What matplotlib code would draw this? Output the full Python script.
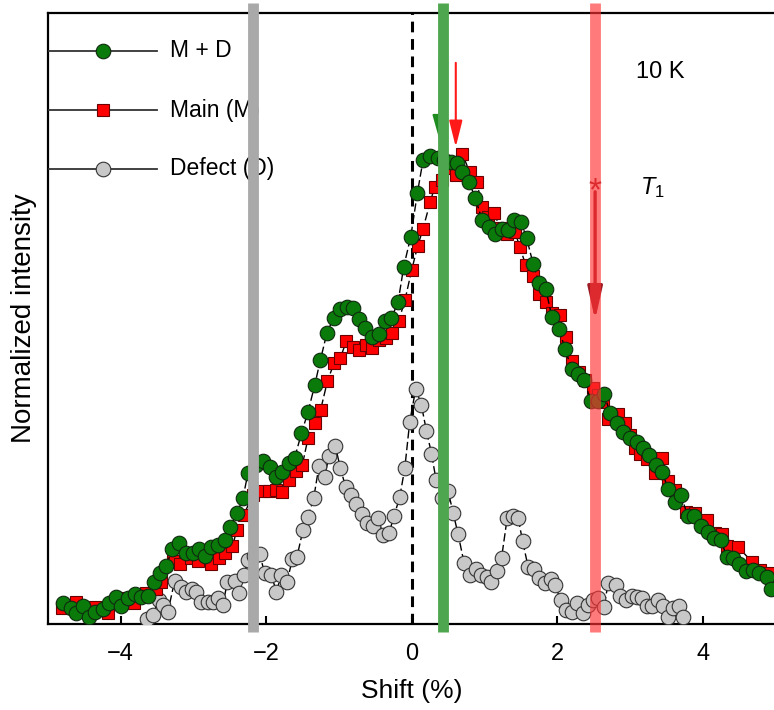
import numpy as np
import matplotlib.pyplot as plt

plt.rcParams['font.family'] = ['Liberation Sans', 'DejaVu Sans']
plt.rcParams['mathtext.fontset'] = 'custom'
plt.rcParams['mathtext.rm'] = 'Liberation Sans'
plt.rcParams['mathtext.it'] = 'Liberation Sans:italic'

# M + D spectrum
shift_md = [-4.796, -4.681, -4.612, -4.521, -4.439, -4.347, -4.246, -4.164, -4.072, -3.993,
            -3.902, -3.810, -3.718, -3.627, -3.549, -3.466, -3.374, -3.292, -3.201, -3.109,
            -3.008, -2.926, -2.838, -2.755, -2.664, -2.572, -2.494, -2.403, -2.320, -2.252,
            -2.146, -2.045, -1.953, -1.871, -1.779, -1.688, -1.609, -1.517, -1.426, -1.334,
            -1.256, -1.165, -1.073, -0.981, -0.890, -0.807, -0.729, -0.637, -0.546, -0.450,
            -0.371, -0.279, -0.188, -0.110, -0.014, 0.078, 0.155, 0.257, 0.362, 0.444,
            0.536, 0.615, 0.692, 0.784, 0.871, 0.967, 1.059, 1.142, 1.234, 1.325,
            1.403, 1.499, 1.578, 1.669, 1.751, 1.843, 1.926, 2.022, 2.109, 2.197,
            2.287, 2.370, 2.458, 2.554, 2.645, 2.724, 2.816, 2.906, 2.999, 3.091,
            3.182, 3.264, 3.356, 3.443, 3.525, 3.618, 3.700, 3.792, 3.883, 3.975,
            4.067, 4.158, 4.250, 4.329, 4.420, 4.502, 4.594, 4.686, 4.777, 4.879, 4.934]
int_md = [0.035, 0.026, 0.018, 0.029, 0.011, 0.020, 0.024, 0.034, 0.045, 0.029,
          0.042, 0.049, 0.045, 0.046, 0.069, 0.084, 0.095, 0.123, 0.132, 0.117,
          0.116, 0.122, 0.112, 0.126, 0.129, 0.137, 0.159, 0.181, 0.206, 0.247,
          0.260, 0.266, 0.257, 0.241, 0.248, 0.263, 0.272, 0.312, 0.347, 0.391,
          0.432, 0.477, 0.501, 0.515, 0.519, 0.517, 0.499, 0.485, 0.470, 0.474,
          0.496, 0.501, 0.527, 0.585, 0.634, 0.706, 0.759, 0.766, 0.762, 0.759,
          0.756, 0.754, 0.739, 0.724, 0.698, 0.661, 0.650, 0.638, 0.646, 0.645,
          0.662, 0.658, 0.632, 0.589, 0.558, 0.548, 0.502, 0.483, 0.450, 0.417,
          0.409, 0.400, 0.365, 0.365, 0.376, 0.346, 0.329, 0.315, 0.305, 0.298,
          0.288, 0.277, 0.260, 0.248, 0.221, 0.200, 0.211, 0.177, 0.177, 0.161,
          0.151, 0.141, 0.137, 0.110, 0.108, 0.098, 0.086, 0.088, 0.083, 0.077, 0.058]

# Main (M) component
shift_main = [-4.805, -4.612, -4.360, -4.177, -3.971, -3.824, -3.649, -3.512, -3.453, -3.283,
              -3.191, -3.030, -2.939, -2.765, -2.655, -2.572, -2.466, -2.403, -2.311, -2.187,
              -2.045, -1.963, -1.871, -1.784, -1.692, -1.596, -1.503, -1.426, -1.334, -1.252,
              -1.160, -1.069, -0.981, -0.898, -0.807, -0.725, -0.633, -0.541, -0.450, -0.358,
              -0.271, -0.179, -0.092, 0.000, 0.080, 0.155, 0.252, 0.316, 0.413, 0.509,
              0.605, 0.697, 0.798, 0.890, 0.972, 1.050, 1.132, 1.217, 1.303, 1.417,
              1.486, 1.564, 1.660, 1.751, 1.839, 1.930, 2.036, 2.114, 2.197, 2.297,
              2.380, 2.486, 2.558, 2.631, 2.700, 2.838, 2.930, 2.999, 3.067, 3.136,
              3.228, 3.343, 3.435, 3.525, 3.618, 3.769, 3.893, 4.054, 4.168, 4.260,
              4.329, 4.488, 4.673, 4.787, 4.924]
int_main = [0.026, 0.036, 0.028, 0.018, 0.042, 0.034, 0.051, 0.058, 0.069, 0.103,
            0.099, 0.108, 0.103, 0.099, 0.108, 0.116, 0.127, 0.154, 0.178, 0.211,
            0.218, 0.218, 0.219, 0.216, 0.235, 0.251, 0.261, 0.304, 0.329, 0.351,
            0.397, 0.427, 0.436, 0.463, 0.454, 0.448, 0.457, 0.451, 0.465, 0.468,
            0.477, 0.496, 0.531, 0.580, 0.618, 0.647, 0.690, 0.716, 0.727, 0.746,
            0.735, 0.769, 0.739, 0.724, 0.683, 0.666, 0.672, 0.648, 0.638, 0.642,
            0.617, 0.588, 0.570, 0.540, 0.527, 0.509, 0.505, 0.469, 0.430, 0.412,
            0.399, 0.387, 0.375, 0.363, 0.335, 0.343, 0.329, 0.309, 0.288, 0.279,
            0.270, 0.247, 0.271, 0.234, 0.220, 0.184, 0.181, 0.170, 0.149, 0.148,
            0.128, 0.126, 0.102, 0.088, 0.083]

# Defect (D) component
shift_def = [-3.641, -3.558, -3.476, -3.421, -3.352, -3.260, -3.168, -3.099, -3.017, -2.961,
             -2.893, -2.802, -2.733, -2.664, -2.596, -2.535, -2.435, -2.376, -2.311, -2.252,
             -2.170, -2.091, -2.022, -1.930, -1.861, -1.792, -1.715, -1.641, -1.578, -1.495,
             -1.426, -1.348, -1.275, -1.197, -1.138, -1.050, -0.981, -0.908, -0.839, -0.761,
             -0.684, -0.615, -0.532, -0.464, -0.395, -0.312, -0.243, -0.165, -0.096, -0.028,
             0.055, 0.131, 0.202, 0.271, 0.334, 0.422, 0.499, 0.568, 0.637, 0.719,
             0.798, 0.876, 0.949, 1.028, 1.087, 1.165, 1.234, 1.311, 1.393, 1.462,
             1.523, 1.600, 1.682, 1.751, 1.829, 1.908, 1.967, 2.045, 2.114, 2.197,
             2.274, 2.348, 2.425, 2.490, 2.554, 2.641, 2.700, 2.806, 2.861, 2.939,
             3.022, 3.099, 3.168, 3.228, 3.305, 3.380, 3.457, 3.517, 3.594, 3.677, 3.732]
int_def = [0.009, 0.015, 0.040, 0.031, 0.020, 0.070, 0.061, 0.053, 0.057, 0.053,
           0.036, 0.036, 0.036, 0.042, 0.031, 0.069, 0.070, 0.050, 0.080, 0.105,
           0.111, 0.115, 0.083, 0.080, 0.053, 0.080, 0.069, 0.106, 0.110, 0.154,
           0.175, 0.206, 0.259, 0.241, 0.275, 0.291, 0.255, 0.224, 0.211, 0.196,
           0.180, 0.166, 0.160, 0.173, 0.146, 0.149, 0.177, 0.208, 0.255, 0.331,
           0.385, 0.359, 0.316, 0.279, 0.236, 0.207, 0.218, 0.182, 0.147, 0.100,
           0.080, 0.090, 0.080, 0.077, 0.069, 0.086, 0.108, 0.173, 0.176, 0.173,
           0.136, 0.093, 0.090, 0.076, 0.067, 0.073, 0.064, 0.040, 0.023, 0.019,
           0.034, 0.018, 0.031, 0.039, 0.042, 0.028, 0.067, 0.064, 0.046, 0.039,
           0.046, 0.045, 0.043, 0.029, 0.029, 0.039, 0.029, 0.011, 0.026, 0.029, 0.012]

# peak positions of the three components and T1 marker
band_pos = [-2.18, 0.43, 2.52]
band_colors = ['#a9a9a9', '#4ea64e', '#ff3333']
band_alpha = [1.0, 1.0, 0.65]
t1_pos = 2.52
arrow_md = 0.385
arrow_main = 0.605

fig = plt.figure(figsize = (7.74, 7.10), dpi = 100)
ax = fig.add_axes([0.062, 0.1211, 0.940, 0.8606])

dash = (0, (6, 2.5))
ax.plot(shift_def, int_def, ls = dash, lw = 1.0, color = 'k', marker = 'o', ms = 10.5,
        mfc = '#c8c8c8', mec = '#333333', mew = 0.8, zorder = 3)
ax.plot(shift_main, int_main, ls = dash, lw = 1.0, color = 'k', marker = 's', ms = 8.8,
        mfc = '#ff0000', mec = '#6a0000', mew = 0.8, zorder = 4)
ax.plot(shift_md, int_md, ls = dash, lw = 1.0, color = 'k', marker = 'o', ms = 10.5,
        mfc = '#0a7a0a', mec = '#0f2a0f', mew = 0.8, zorder = 5)

# zero shift reference
ax.axvline(0, color = 'k', lw = 2.2, ls = (0, (3.5, 2.2)), zorder = 2)

# arrows marking the peak positions
ax.annotate('', xy = (arrow_md, 0.786), xytext = (arrow_md, 0.925),
            arrowprops = dict(arrowstyle = '-|>,head_length=1.6,head_width=0.45',
                              color = '#1e8c1e', lw = 1.5, mutation_scale = 10), zorder = 6)
ax.annotate('', xy = (arrow_main, 0.776), xytext = (arrow_main, 0.923),
            arrowprops = dict(arrowstyle = '-|>,head_length=1.6,head_width=0.4',
                              color = '#ff1a1a', lw = 1.5, mutation_scale = 10), zorder = 6)
ax.annotate('', xy = (t1_pos, 0.493), xytext = (t1_pos, 0.712),
            arrowprops = dict(arrowstyle = '-|>,head_length=2.0,head_width=0.45',
                              color = '#9e1c26', lw = 2.4, mutation_scale = 10), zorder = 9)
ax.text(t1_pos, 0.708, '*', color = '#9e1c26', fontsize = 24, ha = 'center', va = 'center', zorder = 9)

ax.text(3.08, 0.903, '10 K', fontsize = 17, va = 'center', zorder = 6)
ax.text(3.14, 0.714, '$T_1$', fontsize = 17, va = 'center', zorder = 6)

# hand-made legend hanging off the left spine
leg_y = [0.938, 0.841, 0.745]
leg_labels = ['M + D', 'Main (M)', 'Defect (D)']
leg_markers = [('o', 10.5, '#0a7a0a', '#0f2a0f'), ('s', 8.8, '#ff0000', '#6a0000'), ('o', 10.5, '#c8c8c8', '#333333')]
for y, lab, (m, s, fc, ec) in zip(leg_y, leg_labels, leg_markers):
    ax.plot([0.0, 0.150], [y, y], transform = ax.transAxes, color = '#333333', lw = 1.3, zorder = 6)
    ax.plot([0.0756], [y], transform = ax.transAxes, marker = m, ms = s, mfc = fc, mec = ec,
            mew = 0.8, zorder = 7)
    ax.text(0.168, y, lab, transform = ax.transAxes, fontsize = 16.5, va = 'center', zorder = 6)

# vertical bands, drawn over everything and past the frame
for xb, c, a in zip(band_pos, band_colors, band_alpha):
    ax.plot([xb, xb], [-0.013, 1.016], transform = ax.get_xaxis_transform(), color = c,
            alpha = a, lw = 7.8, solid_capstyle = 'butt', clip_on = False, zorder = 10)

ax.set_xlim(-5, 5)
ax.set_ylim(0, 1)
ax.set_xticks([-4, -2, 0, 2, 4])
ax.set_yticks([])
ax.tick_params(axis = 'x', direction = 'in', length = 6, width = 1.5, labelsize = 17, pad = 14)
for sp in ax.spines.values():
    sp.set_linewidth(1.6)
ax.set_xlabel('Shift (%)', fontsize = 19, labelpad = 10)
ax.set_ylabel('Normalized intensity', fontsize = 20, labelpad = 8)

fig.savefig('out.png', dpi = 100)
